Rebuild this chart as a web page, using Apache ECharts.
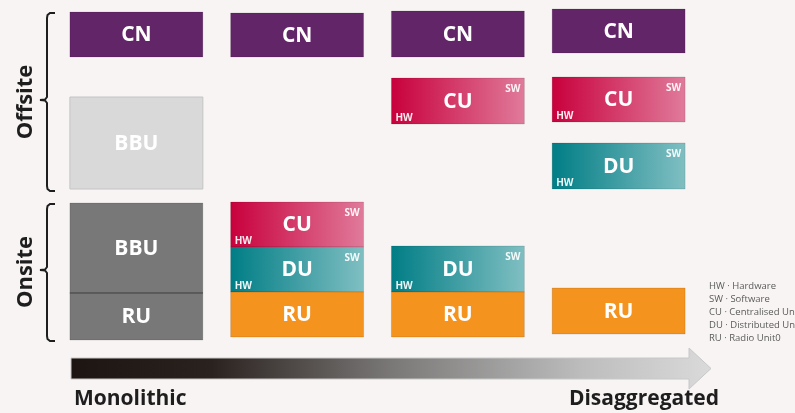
<!DOCTYPE html>
<html>
<head>
<meta charset="utf-8">
<script src="https://cdn.jsdelivr.net/npm/echarts@6/dist/echarts.min.js"></script>
<style>
  html, body { margin: 0; padding: 0; background: #f8f4f3; }
  #container { width: 795px; height: 413px; }
</style>
</head>
<body>
<div id="container"></div>
<script>
// stages along the arrow, one column each
var stages = ['Monolithic', 'Split 1', 'Split 2', 'Disaggregated'];

// blocks: name, column, top / bottom level, kind
var blockNames   = ['CN', 'BBU', 'BBU', 'RU',  'CN', 'CU', 'DU', 'RU',  'CN', 'CU', 'DU', 'RU',  'CN', 'CU', 'DU', 'RU'];
var blockColumns = [0, 0, 0, 0,  1, 1, 1, 1,  2, 2, 2, 2,  3, 3, 3, 3];
var blockTops    = [12, 97, 203, 293,  13, 202, 247, 292,  11, 78, 246, 292,  9, 77, 143, 288];
var blockBottoms = [57, 189, 293, 340,  57, 247, 292, 337,  57, 124, 292, 337,  53, 122, 189, 334];
var blockKinds   = ['cn', 'bbuOff', 'bbuOn', 'ruMono',  'cn', 'cu', 'du', 'ru',  'cn', 'cu', 'du', 'ru',  'cn', 'cu', 'du', 'ru'];

var legendLines = ['HW · Hardware', 'SW · Software', 'CU · Centralised Unit', 'DU · Distributed Unit', 'RU · Radio Unit0'];

var dom = document.getElementById('container');
var myChart = echarts.init(dom, null, { renderer: 'canvas' });

function fillFor(kind) {
    if (kind == 'cn') return '#622568';
    if (kind == 'bbuOff') return '#d9d9d9';
    if (kind == 'bbuOn' || kind == 'ruMono') return '#787878';
    if (kind == 'ru') return '#f5931f';
    if (kind == 'cu') {
        return new echarts.graphic.LinearGradient(0, 0, 1, 0, [
            { offset: 0, color: '#c8003c' },
            { offset: 1, color: '#e07b9b' }
        ]);
    }
    return new echarts.graphic.LinearGradient(0, 0, 1, 0, [
        { offset: 0, color: '#007d85' },
        { offset: 1, color: '#80bfc2' }
    ]);
}

function renderBlock(params, api) {
    var i = params.dataIndex;
    var kind = blockKinds[i];
    var p0 = api.coord([api.value(0), api.value(1)]);
    var p1 = api.coord([api.value(0), api.value(2)]);
    var w = api.size([1, 0])[0] * 0.827;
    var x = p0[0] - w / 2;
    var y0 = p0[1], y1 = p1[1];
    var children = [{
        type: 'rect',
        shape: { x: x, y: y0, width: w, height: y1 - y0 },
        style: { fill: fillFor(kind), stroke: kind == 'bbuOff' ? '#c4c4c4' : 'rgba(0,0,0,0.12)', lineWidth: 1 }
    }, {
        type: 'text',
        style: {
            text: blockNames[i], x: p0[0], y: (y0 + y1) / 2 + 1,
            align: 'center', verticalAlign: 'middle',
            fill: '#ffffff', font: 'bold 21px "Open Sans"'
        }
    }];
    if (kind == 'ruMono') {
        children.push({
            type: 'line',
            shape: { x1: x, y1: y0, x2: x + w, y2: y0 },
            style: { stroke: '#555555', lineWidth: 1.5 }
        });
    }
    if (kind == 'cu' || kind == 'du') {
        children.push({
            type: 'text',
            style: { text: 'HW', x: x + 4, y: y1 - 1, align: 'left', verticalAlign: 'bottom',
                     fill: 'rgba(255,255,255,0.92)', font: 'bold 10px "Open Sans"' }
        });
        children.push({
            type: 'text',
            style: { text: 'SW', x: x + w - 4, y: y0 + 11, align: 'right', verticalAlign: 'middle',
                     fill: 'rgba(255,255,255,0.92)', font: 'bold 10px "Open Sans"' }
        });
    }
    return { type: 'group', children: children };
}

var blockData = blockNames.map(function (n, i) {
    return [blockColumns[i], blockTops[i], blockBottoms[i]];
});

// a bracket with a small notch to the left in the middle
function bracket(top, mid, bottom) {
    return {
        type: 'polyline',
        shape: { points: [[55, top], [50, top], [47.5, top + 2], [47, top + 5], [47, mid - 3], [45, mid - 0.5], [40, mid],
                          [45, mid + 0.5], [47, mid + 3], [47, bottom - 5], [47.5, bottom - 2], [50, bottom], [55, bottom]] },
        style: { fill: null, stroke: '#1e1e1e', lineWidth: 2 }
    };
}

var arrowFill = new echarts.graphic.LinearGradient(0, 0, 1, 0, [
    { offset: 0, color: '#1d1512' },
    { offset: 0.22, color: '#2a221f' },
    { offset: 0.5, color: '#7a7877' },
    { offset: 0.8, color: '#bdbdbd' },
    { offset: 1, color: '#dadada' }
]);

var option = {
    backgroundColor: '#f8f4f3',
    animation: false,
    grid: { left: 56, right: 96, top: 0, bottom: 0 },
    xAxis: { type: 'category', data: stages, show: false },
    yAxis: { type: 'value', min: 0, max: 413, inverse: true, show: false },
    series: [{
        type: 'custom',
        renderItem: renderBlock,
        data: blockData,
        silent: true
    }],
    graphic: [
        bracket(13, 100, 191),
        bracket(204, 270, 341),
        { type: 'text', x: 26, y: 102, rotation: Math.PI / 2,
          style: { text: 'Offsite', align: 'center', verticalAlign: 'middle', fill: '#1e1e1e', font: 'bold 22px "Open Sans"' } },
        { type: 'text', x: 26, y: 272, rotation: Math.PI / 2,
          style: { text: 'Onsite', align: 'center', verticalAlign: 'middle', fill: '#1e1e1e', font: 'bold 22px "Open Sans"' } },
        // arrow
        { type: 'polygon',
          shape: { points: [[71, 358], [689, 358], [689, 348], [711, 368.5], [689, 389], [689, 379], [71, 379]] },
          style: { fill: arrowFill, stroke: '#c8c8c8', lineWidth: 1 } },
        { type: 'text', x: 74, y: 399,
          style: { text: 'Monolithic', align: 'left', verticalAlign: 'middle', fill: '#1e1e1e', font: 'bold 21px "Open Sans"' } },
        { type: 'text', x: 719, y: 399,
          style: { text: 'Disaggregated', align: 'right', verticalAlign: 'middle', fill: '#1e1e1e', font: 'bold 21px "Open Sans"' } },
        // abbreviations
        { type: 'group', x: 709, y: 281,
          children: legendLines.map(function (t, i) {
              return { type: 'text', x: 0, y: i * 13,
                       style: { text: t, fill: '#5a5a5a', font: '9.5px "Open Sans"' } };
          }) }
    ]
};

myChart.setOption(option);
</script>
</body>
</html>
